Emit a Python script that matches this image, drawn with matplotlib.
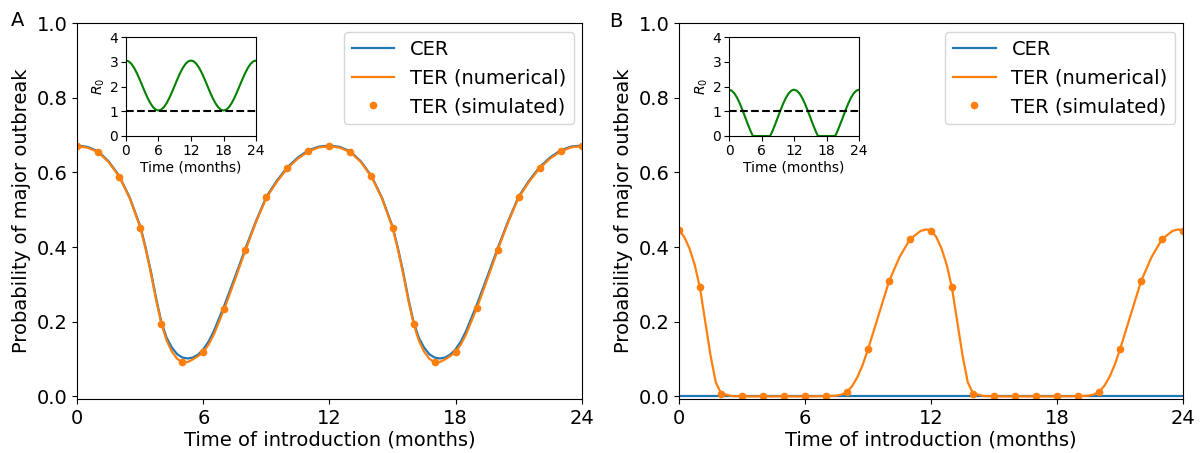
import matplotlib
matplotlib.use("Agg")
import matplotlib.pyplot as plt

# ---------------- data ----------------
# Panel A lines
t_a = [0, 0.5, 1, 1.5, 2, 2.5, 3, 3.25, 3.5, 3.75, 4, 4.25, 4.5, 4.75, 5, 5.25, 5.5,
       5.75, 6, 6.25, 6.5, 7, 7.5, 8, 8.5, 9, 9.5, 10, 10.5, 11, 11.5,
       12, 12.5, 13, 13.5, 14, 14.5, 15, 15.25, 15.5, 15.75, 16, 16.25, 16.5, 16.75,
       17, 17.25, 17.5, 17.75, 18, 18.25, 18.5, 19, 19.5, 20, 20.5, 21, 21.5, 22,
       22.5, 23, 23.5, 24]
ter_a = [0.670, 0.666, 0.654, 0.627, 0.588, 0.530, 0.452, 0.395, 0.330, 0.258, 0.195,
         0.150, 0.120, 0.101, 0.091, 0.092, 0.099, 0.108, 0.119, 0.139, 0.166, 0.235,
         0.312, 0.391, 0.466, 0.532, 0.575, 0.611, 0.637, 0.656, 0.667,
         0.670, 0.666, 0.654, 0.627, 0.588, 0.530, 0.452, 0.395, 0.330, 0.258, 0.195,
         0.150, 0.120, 0.101, 0.091, 0.092, 0.099, 0.108, 0.119, 0.139, 0.166, 0.235,
         0.312, 0.391, 0.466, 0.532, 0.575, 0.611, 0.637, 0.656, 0.667, 0.670]
cer_a = [0.672, 0.668, 0.656, 0.629, 0.590, 0.532, 0.455, 0.399, 0.335, 0.263, 0.199,
         0.157, 0.131, 0.113, 0.104, 0.1015, 0.104, 0.112, 0.126, 0.147, 0.175, 0.244,
         0.319, 0.396, 0.469, 0.535, 0.578, 0.614, 0.640, 0.659, 0.669,
         0.672, 0.668, 0.656, 0.629, 0.590, 0.532, 0.455, 0.399, 0.335, 0.263, 0.199,
         0.157, 0.131, 0.113, 0.104, 0.1015, 0.104, 0.112, 0.126, 0.147, 0.175, 0.244,
         0.319, 0.396, 0.469, 0.535, 0.578, 0.614, 0.640, 0.659, 0.669, 0.672]
months = list(range(25))
sim_a = [0.671, 0.655, 0.588, 0.452, 0.195, 0.092, 0.120, 0.235, 0.392, 0.533, 0.612,
         0.658, 0.671, 0.655, 0.589, 0.452, 0.195, 0.092, 0.120, 0.236, 0.392, 0.533,
         0.612, 0.658, 0.671]

# Panel B lines
t_b = [0, 0.25, 0.5, 0.75, 1, 1.25, 1.5, 1.75, 2, 2.5, 3, 4, 5, 6, 7, 7.5, 7.75, 8,
       8.25, 8.5, 8.75, 9, 9.5, 10, 10.5, 11, 11.5, 11.75,
       12, 12.25, 12.5, 12.75, 13, 13.25, 13.5, 13.75, 14, 14.5, 15, 16, 17, 18, 19,
       19.5, 19.75, 20, 20.25, 20.5, 20.75, 21, 21.5, 22, 22.5, 23, 23.5, 23.75, 24]
ter_b = [0.445, 0.427, 0.396, 0.352, 0.290, 0.200, 0.110, 0.038, 0.008, 0.001, 0.0,
         0.0, 0.0, 0.0, 0.0005, 0.002, 0.005, 0.012, 0.028, 0.052, 0.085, 0.126, 0.217,
         0.308, 0.373, 0.421, 0.443, 0.447,
         0.445, 0.427, 0.396, 0.352, 0.290, 0.200, 0.110, 0.038, 0.008, 0.001, 0.0,
         0.0, 0.0, 0.0, 0.0005, 0.002, 0.005, 0.012, 0.028, 0.052, 0.085, 0.126, 0.217,
         0.308, 0.373, 0.421, 0.443, 0.447, 0.445]
t_cer_b = [0, 24]
cer_b = [0.0, 0.0]
sim_b = [0.445, 0.292, 0.007, 0.0, 0.0, 0.0, 0.0, 0.0, 0.012, 0.127, 0.309, 0.422,
         0.444, 0.292, 0.007, 0.0, 0.0, 0.0, 0.0, 0.0, 0.012, 0.127, 0.309, 0.422, 0.444]

# Insets: R0 over time (half-month readings)
t_r0_a = [0, 0.5, 1, 1.5, 2, 2.5, 3, 3.5, 4, 4.5, 5, 5.5, 6, 6.5, 7, 7.5, 8, 8.5, 9,
          9.5, 10, 10.5, 11, 11.5, 12, 12.5, 13, 13.5, 14, 14.5, 15, 15.5, 16, 16.5,
          17, 17.5, 18, 18.5, 19, 19.5, 20, 20.5, 21, 21.5, 22, 22.5, 23, 23.5, 24]
r0_a = [3.05, 3.016, 2.915, 2.754, 2.545, 2.301, 2.04, 1.779, 1.535, 1.326, 1.165,
        1.064, 1.03, 1.064, 1.165, 1.326, 1.535, 1.779, 2.04, 2.301, 2.545, 2.754,
        2.915, 3.016, 3.05, 3.016, 2.915, 2.754, 2.545, 2.301, 2.04, 1.779, 1.535,
        1.326, 1.165, 1.064, 1.03, 1.064, 1.165, 1.326, 1.535, 1.779, 2.04, 2.301,
        2.545, 2.754, 2.915, 3.016, 3.05]
t_r0_b = [0, 0.5, 1, 1.5, 2, 2.5, 3, 3.5, 4, 4.4, 5, 6, 7, 7.6, 8, 8.5, 9, 9.5, 10,
          10.5, 11, 11.5, 12, 12.5, 13, 13.5, 14, 14.5, 15, 15.5, 16, 16.4, 17, 18,
          19, 19.6, 20, 20.5, 21, 21.5, 22, 22.5, 23, 23.5, 24]
r0_b = [1.87, 1.832, 1.72, 1.542, 1.31, 1.04, 0.75, 0.46, 0.19, 0.0, 0.0, 0.0, 0.0,
        0.0, 0.19, 0.46, 0.75, 1.04, 1.31, 1.542, 1.72, 1.832, 1.87, 1.832, 1.72,
        1.542, 1.31, 1.04, 0.75, 0.46, 0.19, 0.0, 0.0, 0.0, 0.0, 0.0, 0.19, 0.46,
        0.75, 1.04, 1.31, 1.542, 1.72, 1.832, 1.87]
r0_threshold = 1

xticks = [0, 6, 12, 18, 24]
yticks = [0.0, 0.2, 0.4, 0.6, 0.8, 1.0]
labels = ["CER", "TER (numerical)", "TER (simulated)"]

C_CER = "#1f77b4"
C_TER = "#ff7f0e"

fig = plt.figure(figsize=(12.02, 4.53), dpi=100)
axA = fig.add_axes([0.0643, 0.1192, 0.4196, 0.83])
axB = fig.add_axes([0.5649, 0.1192, 0.4193, 0.83])
inA = fig.add_axes([0.1048, 0.6998, 0.1082, 0.2185])
inB = fig.add_axes([0.6065, 0.6998, 0.1082, 0.2185])

def main_panel(ax, tc, cer, tt, ter, sim):
    ax.plot(tc, cer, color=C_CER, lw=1.6, label=labels[0])
    ax.plot(tt, ter, color=C_TER, lw=1.6, label=labels[1])
    ax.plot(months, sim, "o", color=C_TER, ms=4.5, label=labels[2])
    ax.set_xlim(0, 24)
    ax.set_ylim(-0.007, 1.0)
    ax.set_xticks(xticks)
    ax.set_yticks(yticks)
    ax.tick_params(labelsize=14)
    ax.set_xlabel("Time of introduction (months)", fontsize=14, labelpad=2)
    ax.set_ylabel("Probability of major outbreak", fontsize=14, labelpad=4)
    ax.legend(loc="upper right", fontsize=14, bbox_to_anchor=(0.985, 0.976),
              borderaxespad=0.0, borderpad=0.4, handlelength=2.2)

main_panel(axA, t_a, cer_a, t_a, ter_a, sim_a)
main_panel(axB, t_cer_b, cer_b, t_b, ter_b, sim_b)

def inset(ax, t, r0):
    ax.plot(t, r0, color="green", lw=1.5)
    ax.axhline(r0_threshold, color="black", ls="--", lw=1.5)
    ax.set_xlim(0, 24)
    ax.set_ylim(0, 4)
    ax.set_xticks(xticks)
    ax.set_yticks([0, 1, 2, 3, 4])
    ax.tick_params(labelsize=10, pad=2)
    ax.set_xlabel("Time (months)", fontsize=10, labelpad=2)
    ax.set_ylabel("$R_0$", fontsize=10, labelpad=2)

inset(inA, t_r0_a, r0_a)
inset(inB, t_r0_b, r0_b)

fig.text(0.009, 0.955, "A", fontsize=14, va="center")
fig.text(0.507, 0.952, "B", fontsize=14, va="center")

fig.savefig("out.png", dpi=100)
